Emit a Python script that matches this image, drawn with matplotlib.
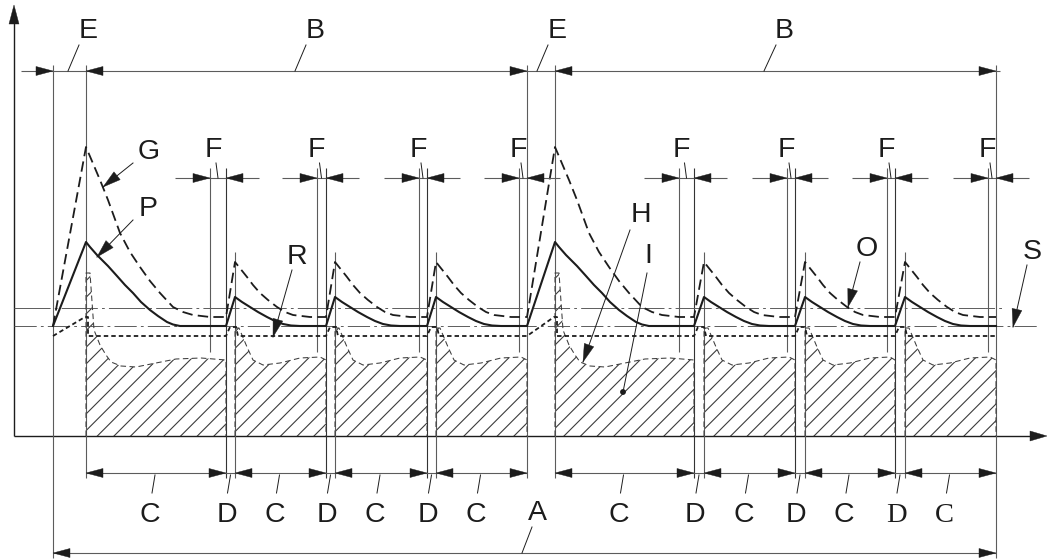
import numpy as np
import matplotlib
matplotlib.use("Agg")
import matplotlib.pyplot as plt
from matplotlib.patches import Polygon, Circle

plt.rcParams['lines.scale_dashes'] = False
plt.rcParams['hatch.linewidth'] = 0.8

ink = '#1c1c1c'
thin = '#5c5c5c'
hatch_c = '#3c3c3c'

#===============================================================================
# construction lines (pixel positions)
#===============================================================================
x_axis_y = 436
y_axis_x = 14
x_start = [53, 527]          # start of E
x_peak = [86, 555]           # end of E / start of B
x_end = [527, 996]           # end of B
f_left = [210, 317, 419, 519, 679, 787, 887, 988]
f_right = [226, 326, 427, 527, 694, 795, 895, 996]
d_left = [226, 326, 427, 694, 795, 895]
d_right = [235, 335, 436, 704, 805, 905]

y_top_dim = 71
y_f_dim = 178
y_cd_dim = 473
y_a_dim = 553

lvl_upper = 308     # chain line, O
lvl_lower = 326     # chain line, S / rest level of P
lvl_g = 317         # rest level of G
lvl_r = 336         # R

# G (dashed) and P (solid) pulses, offsets from the peak line
g_main_dx = [0, 14, 22, 34, 44, 54, 64, 74, 87, 97, 107, 124]
g_main_y = [147, 180, 200, 233, 252, 267, 281, 293, 307, 312, 315, 317]
p_main_dx = [0, 4, 11, 22, 31, 39, 47, 55, 64, 72, 81, 87, 94, 102]
p_main_y = [242, 247, 255, 266, 276, 285, 293, 302, 310, 316, 322, 324.5, 326, 326]
g_small_dx = [0, 12, 18, 25, 33, 42, 50, 58, 75]
g_small_y = [262, 277, 285, 293, 300, 307, 312, 315, 317]
p_small_dx = [0, 7, 15, 23, 32, 40, 48, 56, 65]
p_small_y = [297, 302, 307, 312, 317, 321, 324, 325.5, 326]

# R steps
r_bump_dx = [0, 4, 10, 12]
r_bump_y = [336, 327, 327, 336]

# hatched area I, top outline
h_main_dx = [0, 4, 8, 14, 20, 25, 35, 50, 70, 90, 115]
h_main_y = [273, 273, 330, 345, 355, 362, 366, 367, 363, 359, 358]
h_small_dx = [0, 4, 12, 18, 28, 45, 65, 85]
h_small_y = [328, 328, 347, 360, 365, 363, 358, 357]
h_end_y = 360

fig = plt.figure(figsize=(10.47, 5.59), dpi=100)
ax = fig.add_axes([0, 0, 1, 1])
ax.set_xlim(0, 1047)
ax.set_ylim(559, 0)
ax.axis('off')


def head(tip, d, L=17, W=4.5):
    tx, ty = tip
    dx, dy = d
    n = np.hypot(dx, dy)
    dx, dy = dx / n, dy / n
    bx, by = tx - dx * L, ty - dy * L
    px, py = -dy * W, dx * W
    ax.add_patch(Polygon([(tx, ty), (bx + px, by + py), (bx - px, by - py)],
                         closed=True, facecolor=ink, edgecolor=ink, lw=0.3, zorder=5))


def vline(x, y0, y1, c=thin, lw=0.8):
    ax.plot([x, x], [y0, y1], color=c, lw=lw, solid_capstyle='butt')


def hline(y, x0, x1, c=thin, lw=0.8, **kw):
    ax.plot([x0, x1], [y, y], color=c, lw=lw, solid_capstyle='butt', **kw)


def label(x, y, s, family='Liberation Sans'):
    ax.text(x, y + 10, s, ha='center', va='baseline', fontsize=20.5,
            family=family, color=ink)


def leader(p0, p1, arrow=False):
    ax.plot([p0[0], p1[0]], [p0[1], p1[1]], color=ink, lw=0.7)
    if arrow:
        head(p1, (p1[0] - p0[0], p1[1] - p0[1]), L=18, W=5)


#===============================================================================
# axes
#===============================================================================
vline(y_axis_x, x_axis_y, 20, c=ink, lw=1.0)
head((y_axis_x, 5), (0, -1), L=19, W=5)
hline(x_axis_y, y_axis_x, 1035, c=ink, lw=1.0)
head((1047, x_axis_y), (1, 0), L=17, W=5)

#===============================================================================
# construction verticals
#===============================================================================
vline(x_start[0], 65, 558)
vline(x_end[1], 65, 558)
for x in [x_peak[0], x_start[1], x_peak[1]]:
    vline(x, 65, 478)
for x in f_left:
    vline(x, 168, 352)
for x in d_left:
    vline(x, 168, 478, c='#333333')
for x in d_right:
    vline(x, 252, 478)

#===============================================================================
# level lines
#===============================================================================
hline(lvl_upper, y_axis_x, 1002, lw=0.7, dashes=(26, 3, 2, 3))
hline(lvl_lower, y_axis_x, 1040, lw=0.7, dashes=(16, 3, 2, 3))

#===============================================================================
# hatched area I
#===============================================================================
segs = [(x_peak[0], d_left[0], True), (d_right[0], d_left[1], False),
        (d_right[1], d_left[2], False), (d_right[2], x_end[0], False),
        (x_peak[1], d_left[3], True), (d_right[3], d_left[4], False),
        (d_right[4], d_left[5], False), (d_right[5], x_end[1], False)]
for a, b, main in segs:
    dx, ys = (h_main_dx, h_main_y) if main else (h_small_dx, h_small_y)
    xs = [a] + [a + d for d in dx] + [b, b]
    yy = [x_axis_y] + ys + [h_end_y, x_axis_y]
    ax.fill(xs, yy, facecolor='none', edgecolor=hatch_c, hatch='//', lw=0)
    ax.plot(xs, yy, color=hatch_c, lw=0.75, dashes=(4, 2.5))


#===============================================================================
# curves G, P, R
#===============================================================================
def wave(main_dx, main_y, small_dx, small_y, start_y, base_y):
    xs, ys = [x_start[0]], [start_y]
    for c in range(2):
        pk = x_peak[c]
        xs += [pk + d for d in main_dx]
        ys += main_y
        for dl, dr in zip(d_left[3 * c:3 * c + 3], d_right[3 * c:3 * c + 3]):
            xs += [dl]
            ys += [base_y]
            xs += [dr + d for d in small_dx]
            ys += small_y
        xs += [x_end[c]]
        ys += [base_y]
    return xs, ys


gx, gy = wave(g_main_dx, g_main_y, g_small_dx, g_small_y, lvl_lower, lvl_g)
ax.plot(gx, gy, color=ink, lw=1.3, dashes=(7.5, 3.8))
px_, py_ = wave(p_main_dx, p_main_y, p_small_dx, p_small_y, lvl_lower, lvl_lower)
ax.plot(px_, py_, color=ink, lw=1.5)

rx, ry = [], []
for c in range(2):
    rx += [x_start[c], x_peak[c] - 1, x_peak[c] + 2, x_peak[c] + 2]
    ry += [lvl_r, lvl_g, lvl_g, lvl_r]
    for dl in d_left[3 * c:3 * c + 3]:
        rx += [dl + d for d in r_bump_dx]
        ry += r_bump_y
rx += [x_end[1]]
ry += [lvl_r]
ax.plot(rx, ry, color=ink, lw=1.3, dashes=(3.2, 2.2))

#===============================================================================
# dimension lines
#===============================================================================
hline(y_top_dim, 21, 1000)
head((x_start[0], y_top_dim), (1, 0))
head((x_peak[0], y_top_dim), (-1, 0))
head((x_start[1], y_top_dim), (1, 0))
head((x_peak[1], y_top_dim), (-1, 0))
head((x_end[1], y_top_dim), (1, 0))

for fl, fr in zip(f_left, f_right):
    hline(y_f_dim, fl - 35, fr + 33)
    head((fl, y_f_dim), (1, 0))
    head((fr, y_f_dim), (-1, 0))
    mid = (fl + fr) / 2
    label(mid - 5, 147, 'F')
    leader((mid - 2, 163), (mid, y_f_dim))

c_segs = [(a, b) for a, b, m in segs]
hline(y_cd_dim, x_peak[0], x_end[0])
hline(y_cd_dim, x_peak[1], x_end[1])
for i, (a, b) in enumerate(c_segs):
    head((a, y_cd_dim), (-1, 0))
    head((b, y_cd_dim), (1, 0))
    mid = (a + b) / 2
    fam = 'Liberation Serif' if i == len(c_segs) - 1 else 'Liberation Sans'
    label(mid - 6, 512, 'C', fam)
    leader((mid - 1, 475), (mid - 4, 493))
for i, (a, b) in enumerate(zip(d_left, d_right)):
    mid = (a + b) / 2
    fam = 'Liberation Serif' if i == len(d_left) - 1 else 'Liberation Sans'
    label(mid - 4, 512, 'D', fam)
    leader((mid, 475), (mid - 3, 493))

hline(y_a_dim, x_start[0], x_end[1])
head((x_start[0], y_a_dim), (-1, 0))
head((x_end[1], y_a_dim), (1, 0))
label(537, 510, 'A')
leader((532, 527), (522, y_a_dim))

#===============================================================================
# letters with leaders
#===============================================================================
label(88, 28, 'E')
leader((79, 45), (68, y_top_dim))
label(557, 28, 'E')
leader((548, 45), (537, y_top_dim))
label(315, 28, 'B')
leader((306, 45), (295, y_top_dim))
label(784, 28, 'B')
leader((776, 45), (764, y_top_dim))

label(149, 149, 'G')
leader((133, 163), (103, 187), arrow=True)
label(148, 206, 'P')
leader((133, 220), (97, 257), arrow=True)
label(297, 254, 'R')
leader((292, 270), (273, 337), arrow=True)
label(641, 212, 'H')
leader((630, 230), (583, 362), arrow=True)
label(648, 253, 'I')
leader((647, 273), (623, 392))
ax.add_patch(Circle((623, 392), 2.2, color=ink, zorder=5))
label(867, 246, 'O')
leader((860, 262), (848, 307), arrow=True)
label(1032, 249, 'S')
leader((1027, 265), (1013, 327), arrow=True)

fig.savefig('out.png', dpi=100)
